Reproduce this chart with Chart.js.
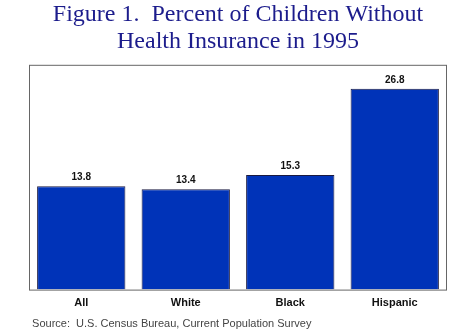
<!DOCTYPE html>
<html>
<head>
<meta charset="utf-8">
<script src="https://cdn.jsdelivr.net/npm/chart.js@4/dist/chart.umd.min.js"></script>
<style>
  html, body { margin: 0; padding: 0; background: #fff; }
  #wrap { width: 473px; height: 335px; }
</style>
</head>
<body>
<div id="wrap"><canvas id="chart" width="473" height="335"></canvas></div>
<script>
// data
const groups = ["All", "White", "Black", "Hispanic"];
const pctUninsured = [13.8, 13.4, 15.3, 26.8];
const yMax = 30;

// draws the grey frame round the plot area
const frameBox = {
  id: "frameBox",
  afterDatasetsDraw(chart) {
    const { ctx, chartArea: a } = chart;
    ctx.save();
    ctx.strokeStyle = "#666";
    ctx.lineWidth = 1;
    ctx.strokeRect(a.left + 0.5, a.top + 0.5, a.right - a.left - 1, a.bottom - a.top);
    ctx.restore();
  }
};

// value labels above each bar
const valueLabels = {
  id: "valueLabels",
  afterDatasetsDraw(chart) {
    const { ctx } = chart;
    const meta = chart.getDatasetMeta(0);
    ctx.save();
    ctx.font = "bold 10px 'Liberation Sans', Arial, sans-serif";
    ctx.fillStyle = "#111";
    ctx.textAlign = "center";
    ctx.textBaseline = "bottom";
    meta.data.forEach((bar, i) => {
      ctx.fillText(pctUninsured[i].toFixed(1), bar.x, bar.y - 4);
    });
    ctx.restore();
  }
};

new Chart(document.getElementById("chart").getContext("2d"), {
  type: "bar",
  data: {
    labels: groups,
    datasets: [{
      data: pctUninsured,
      backgroundColor: "#0033b8",
      borderColor: "#1a1a40",
      borderWidth: 1,
      categoryPercentage: 1,
      barPercentage: 0.845
    }]
  },
  options: {
    responsive: false,
    animation: false,
    layout: { padding: { left: 29, right: 26, top: 0, bottom: 0 } },
    plugins: {
      legend: { display: false },
      tooltip: { enabled: false },
      title: {
        display: true,
        text: ["Figure 1.  Percent of Children Without", "Health Insurance in 1995"],
        color: "#1c1c8c",
        font: { family: "'Liberation Serif', 'Times New Roman', serif", size: 24, weight: "normal", lineHeight: 1.1 },
        padding: { top: 2, bottom: 10 }
      },
      subtitle: {
        display: true,
        position: "bottom",
        align: "start",
        text: " Source:  U.S. Census Bureau, Current Population Survey",
        color: "#444",
        font: { family: "'Liberation Sans', Arial, sans-serif", size: 11 },
        padding: { top: 1, bottom: 4 }
      }
    },
    scales: {
      x: {
        grid: { display: false, drawTicks: false },
        border: { display: false },
        ticks: {
          color: "#111",
          font: { family: "'Liberation Sans', Arial, sans-serif", size: 11, weight: "bold" },
          padding: 7
        }
      },
      y: {
        display: false,
        min: 0,
        max: yMax
      }
    }
  },
  plugins: [frameBox, valueLabels]
});
</script>
</body>
</html>
